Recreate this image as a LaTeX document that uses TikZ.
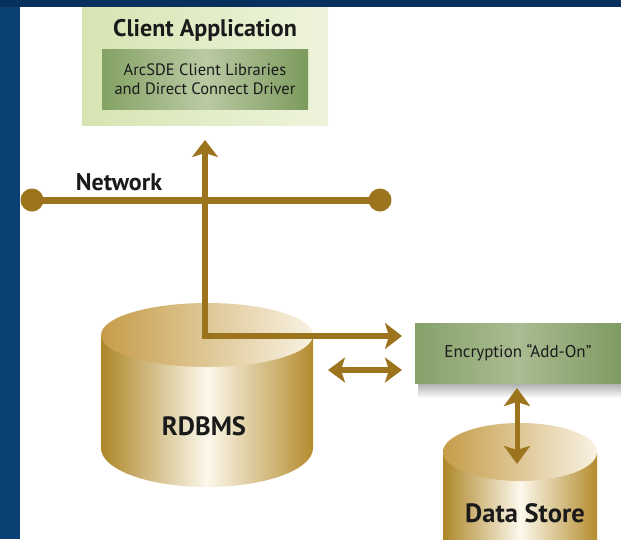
\documentclass[tikz,border=0pt]{standalone}
\usepackage{fontspec}
\setmainfont{PT Sans}
\usetikzlibrary{arrows.meta}
\definecolor{bgblue}{HTML}{0B4075}
\definecolor{topblue}{HTML}{06315F}
\definecolor{gold}{HTML}{9C741E}
\definecolor{cylDark}{HTML}{AD8628}
\definecolor{cylDarkR}{HTML}{B48C2E}
\definecolor{cylLight}{HTML}{FCF8EC}
\definecolor{cylTopDark}{HTML}{C69D4A}
\definecolor{cylTopLight}{HTML}{F8F2E2}
\definecolor{lgreenA}{HTML}{D6E4B2}
\definecolor{lgreenB}{HTML}{EEF4DC}
\definecolor{dgreenA}{HTML}{84A264}
\definecolor{dgreenM}{HTML}{BACAA4}
\definecolor{dgreenB}{HTML}{7C9A5C}
\definecolor{egreenA}{HTML}{86A16A}
\definecolor{egreenM}{HTML}{A9BC92}
\definecolor{egreenB}{HTML}{7F9A62}
\definecolor{txt}{HTML}{1A1A1A}
\tikzset{
  goldline/.style={draw=gold, line width=6pt, line join=miter},
  dotnode/.style={circle, fill=gold, minimum size=23pt, inner sep=0pt},
  greenbox/.style={inner sep=0pt},
  lbl/.style={text=txt, inner sep=0pt, align=center},
}
\begin{document}
\begin{tikzpicture}[x=1pt,y=-1pt]
\fill[bgblue] (0,0) rectangle (621,539);
\fill[topblue] (0,0) rectangle (621,7);
\fill[white] (20,7) rectangle (621,539);
\useasboundingbox (0,0) rectangle (621,539);

% Client application box
\node[greenbox, minimum width=246pt, minimum height=118pt,
      left color=lgreenA, right color=lgreenB] (client) at (205,66) {};
\node[lbl, font=\fontsize{24}{28}\selectfont\bfseries] (clienttitle) at (205,30) {Client Application};
\node[greenbox, minimum width=206pt, minimum height=60pt,
      left color=dgreenA, right color=dgreenB, middle color=dgreenM,
      font=\fontsize{16.5}{19}\selectfont, text=txt, align=center] (libs) at (205,79)
      {ArcSDE Client Libraries\\and Direct Connect Driver};

% Network
\node[dotnode] (netL) at (32,200) {};
\node[dotnode] (netR) at (380,200) {};
\draw[goldline, line width=7pt] (netL.center) -- (netR.center);
\node[lbl, font=\fontsize{24}{28}\selectfont\bfseries] (netlbl) at (119,182) {Network};

% RDBMS cylinder
\path[left color=cylDark, right color=cylDarkR, middle color=cylLight]
  (101,335) -- (101,448) arc[start angle=180, end angle=0, x radius=106, y radius=39] -- (313,335) -- cycle;
\path[left color=cylTopDark, right color=cylTopLight]
  (207,335) ellipse [x radius=106, y radius=32];
\node[lbl, font=\fontsize{26.5}{30}\selectfont\bfseries] (rdbms) at (204,426) {RDBMS};

% Encryption box with shadow
\path[top color=gray!65, bottom color=white] (418,383) rectangle (621,398);
\node[greenbox, minimum width=206pt, minimum height=60pt,
      left color=egreenA, right color=egreenB, middle color=egreenM,
      font=\fontsize{17}{20}\selectfont, text=txt] (enc) at (518,353)
      {Encryption “Add-On”};

% Data store cylinder
\path[left color=cylDark, right color=cylDarkR, middle color=cylLight]
  (443,452) rectangle (597,545);
\path[left color=cylTopDark, right color=cylTopLight]
  (520,452) ellipse [x radius=77, y radius=29];
\node[lbl, font=\fontsize{26.5}{30}\selectfont\bfseries] (dstore) at (525,513) {Data Store};

% Arrows
\coordinate (upTip) at (205,140);
\coordinate (corner) at (205,336);
\coordinate (rightTip) at (402,336);
\draw[goldline, {Stealth[length=17pt, width=26pt, inset=4pt]}-{Stealth[length=17pt, width=26pt, inset=4pt]}] (upTip) -- (corner) -- (rightTip);
\coordinate (dL) at (328,370);
\coordinate (dR) at (402,370);
\draw[goldline, line width=5.5pt, {Stealth[length=17pt, width=25pt, inset=4pt]}-{Stealth[length=17pt, width=25pt, inset=4pt]}] (dL) -- (dR);
\coordinate (dsTop) at (517,388);
\coordinate (dsBot) at (517,464);
\draw[goldline, line width=5pt, {Stealth[length=18pt, width=26pt, inset=4pt]}-{Stealth[length=18pt, width=26pt, inset=4pt]}] (dsTop) -- (dsBot);
\end{tikzpicture}
\end{document}
